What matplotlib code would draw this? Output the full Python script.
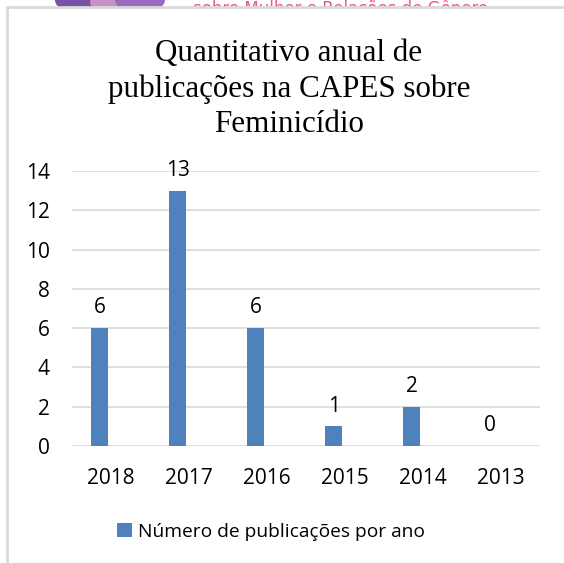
import matplotlib
matplotlib.use("Agg")
import matplotlib.pyplot as plt
from matplotlib.patches import Rectangle, Ellipse
import numpy as np

years = ["2018", "2017", "2016", "2015", "2014", "2013"]
values = [6, 13, 6, 1, 2, 0]
yticks = [0, 2, 4, 6, 8, 10, 12, 14]
title = "Quantitativo anual de\npublicações na CAPES sobre\nFeminicídio"
legend_label = "Número de publicações por ano"

W, H = 564, 563
fig = plt.figure(figsize=(W / 100, H / 100), dpi=100)
fig.patch.set_facecolor("white")

def fx(px):
    return px / W

def fy(py):
    return 1 - py / H

# header strip (cut off logo and text above the chart)
for cx, cy, w, h, c in [(85, 0, 60, 30, "#7a4fa8"), (110, 2, 40, 24, "#c98fc9"),
                        (140, 0, 50, 26, "#9a6bbf")]:
    fig.patches.append(Ellipse((fx(cx), fy(cy)), w / W, h / H, transform=fig.transFigure,
                               facecolor=c, edgecolor="none", zorder=-3))
fig.text(fx(193), fy(14), "sobre Mulher e Relações de Gênero", color="#e8559c",
         fontsize=12, family="DejaVu Sans", ha="left", va="baseline", zorder=-3)

# chart area frame
fig.patches.append(Rectangle((fx(7), fy(H + 20)), (W + 20 - 7) / W, (H + 20 - 7) / H,
                             transform=fig.transFigure, facecolor="white",
                             edgecolor="#d9d9d9", linewidth=2, zorder=-1))

left, right, top, bottom = 72, 540, 171, 446
ax = fig.add_axes([fx(left), fy(bottom), (right - left) / W, (bottom - top) / H])
ax.set_facecolor("none")
ax.set_xlim(0, len(years))
ax.set_ylim(0, 14)

x = np.arange(len(years)) + 0.5
bar_offset = -0.145
bar_w = 0.22
color = "#4f81bd"
fs = 15
ax.bar(x + bar_offset, values, width=bar_w, color=color, zorder=3, label=legend_label)
for xi, v in zip(x, values):
    ax.text(xi + bar_offset, v + 0.5, str(v), ha="center", va="bottom",
            fontsize=fs, family="Open Sans", color="#000000")

ax.set_yticks(yticks)
ax.set_yticklabels([str(t) for t in yticks], fontsize=fs, family="Open Sans")
ax.set_xticks(x)
ax.set_xticklabels(years, fontsize=fs, family="Open Sans")
ax.tick_params(axis="y", length=0, pad=16)
ax.tick_params(axis="x", length=0, pad=16)
ax.yaxis.grid(True, color="#d9d9d9", linewidth=1.2, zorder=0)
ax.set_axisbelow(True)
for s in ax.spines.values():
    s.set_visible(False)

fig.text(fx(289), fy(89), title, ha="center", va="center", fontsize=22.3,
         family="Liberation Serif", linespacing=1.3)

leg = fig.legend(loc="center", bbox_to_anchor=(fx(271), fy(532)), frameon=False,
                 prop={"family": "Open Sans", "size": 13.8}, handlelength=0.75,
                 handleheight=0.75, handletextpad=0.3)

fig.savefig("out.png", dpi=100, facecolor="white")
